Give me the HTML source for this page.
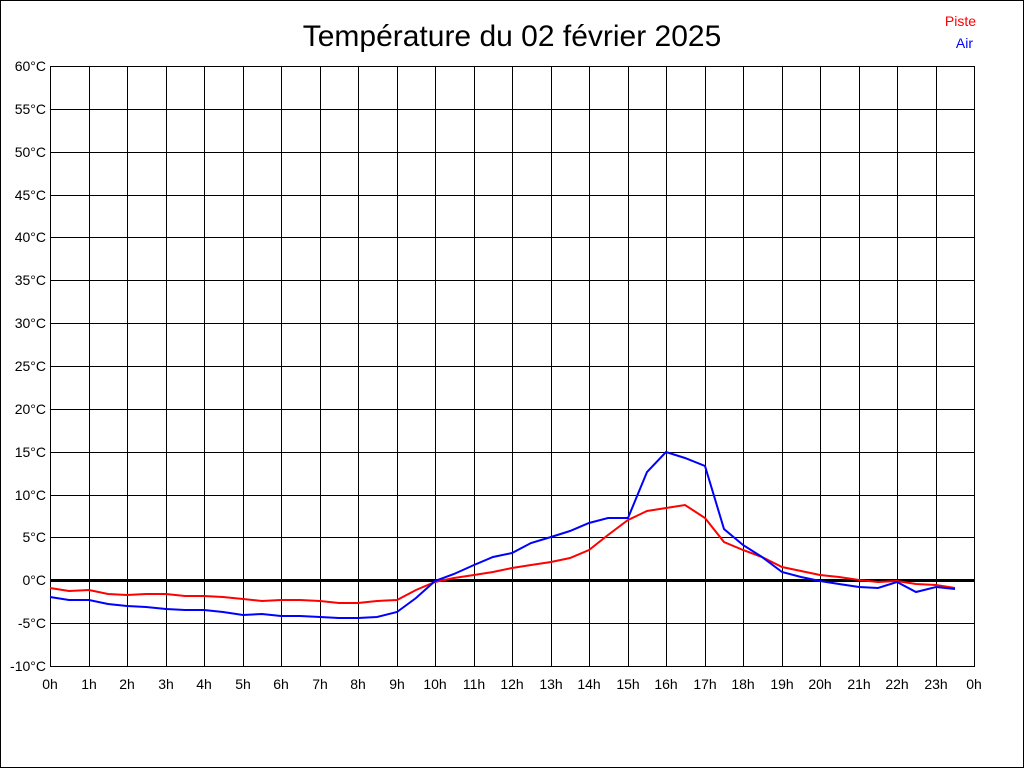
<!DOCTYPE html>
<html><head><meta charset="utf-8"><style>
body{margin:0;background:#fff}
svg{display:block;font-family:"Liberation Sans",Arial,sans-serif}
</style></head><body>
<svg width="1024" height="768" xmlns="http://www.w3.org/2000/svg">
<rect x="0.5" y="0.5" width="1023" height="767" fill="#fff" stroke="#000"/>
<text x="512" y="46" font-size="30" text-anchor="middle">Température du 02 février 2025</text>
<text x="976" y="26" font-size="14" fill="#f00" text-anchor="end">Piste</text>
<text x="973" y="48" font-size="14" fill="#00f" text-anchor="end">Air</text>
<g stroke="#000" stroke-width="1" shape-rendering="crispEdges">
<path d="M50.5 66V666M89.5 66V666M127.5 66V666M166.5 66V666M204.5 66V666M243.5 66V666M281.5 66V666M320.5 66V666M358.5 66V666M397.5 66V666M435.5 66V666M474.5 66V666M512.5 66V666M551.5 66V666M589.5 66V666M628.5 66V666M666.5 66V666M705.5 66V666M743.5 66V666M782.5 66V666M820.5 66V666M859.5 66V666M897.5 66V666M936.5 66V666M974.5 66V666"/>
<path d="M50 66.5H975M50 109.5H975M50 152.5H975M50 195.5H975M50 237.5H975M50 280.5H975M50 323.5H975M50 366.5H975M50 409.5H975M50 452.5H975M50 495.5H975M50 537.5H975M50 623.5H975M50 666.5H975"/>
</g>
<rect x="50" y="579" width="925" height="3" fill="#000"/>
<g font-size="14" text-anchor="end" fill="#000">
<text x="46" y="71">60°C</text><text x="46" y="114">55°C</text><text x="46" y="157">50°C</text><text x="46" y="200">45°C</text><text x="46" y="242">40°C</text><text x="46" y="285">35°C</text><text x="46" y="328">30°C</text><text x="46" y="371">25°C</text><text x="46" y="414">20°C</text><text x="46" y="457">15°C</text><text x="46" y="500">10°C</text><text x="46" y="542">5°C</text><text x="46" y="585">0°C</text><text x="46" y="628">-5°C</text><text x="46" y="671">-10°C</text>
</g>
<g font-size="14" text-anchor="middle" fill="#000">
<text x="50" y="689">0h</text><text x="89" y="689">1h</text><text x="127" y="689">2h</text><text x="166" y="689">3h</text><text x="204" y="689">4h</text><text x="243" y="689">5h</text><text x="281" y="689">6h</text><text x="320" y="689">7h</text><text x="358" y="689">8h</text><text x="397" y="689">9h</text><text x="435" y="689">10h</text><text x="474" y="689">11h</text><text x="512" y="689">12h</text><text x="551" y="689">13h</text><text x="589" y="689">14h</text><text x="628" y="689">15h</text><text x="666" y="689">16h</text><text x="705" y="689">17h</text><text x="743" y="689">18h</text><text x="782" y="689">19h</text><text x="820" y="689">20h</text><text x="859" y="689">21h</text><text x="897" y="689">22h</text><text x="936" y="689">23h</text><text x="974" y="689">0h</text>
</g>
<polyline fill="none" stroke="#f00" stroke-width="2" points="50,588 69,591 89,590 108,594 127,595 146,594 166,594 185,596 204,596 223,597 243,599 262,601 281,600 300,600 320,601 339,603 358,603 377,601 397,600 416,590 435,582 454,578 474,575 493,572 512,568 531,565 551,562 570,558 589,550 608,535 628,520 647,511 666,508 685,505 705,518 724,542 743,550 762,557 782,567 801,571 820,575 839,577 859,580 878,582 897,581 916,584 936,585 955,588"/>
<polyline fill="none" stroke="#00f" stroke-width="2" points="50,597 69,600 89,600 108,604 127,606 146,607 166,609 185,610 204,610 223,612 243,615 262,614 281,616 300,616 320,617 339,618 358,618 377,617 397,612 416,598 435,581 454,574 474,565 493,557 512,553 531,543 551,537 570,531 589,523 608,518 628,518 647,472 666,452 685,458 705,466 724,529 743,545 762,557 782,572 801,577 820,581 839,584 859,587 878,588 897,582 916,592 936,587 955,589"/>
</svg>
</body></html>
